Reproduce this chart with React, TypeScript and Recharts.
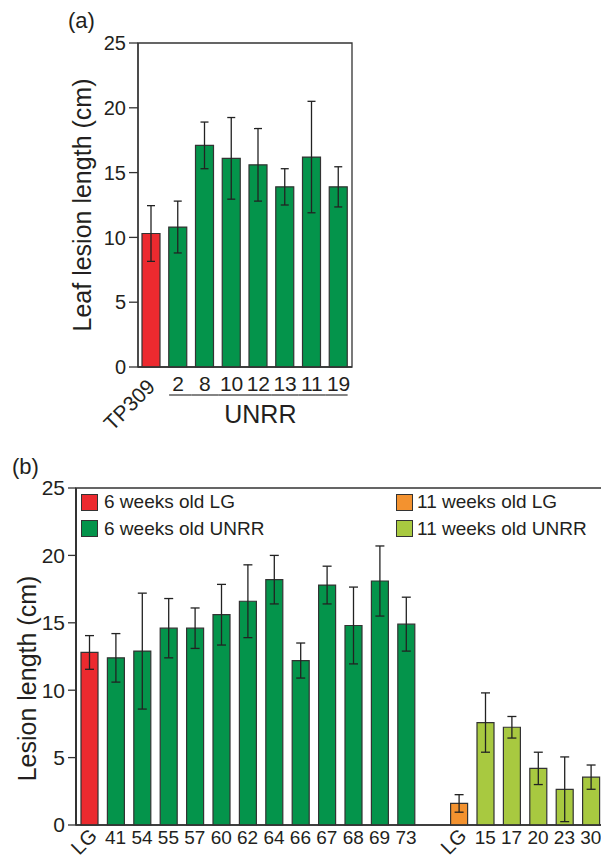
import React from 'react';
import { BarChart, Bar, Cell, ErrorBar, XAxis, YAxis, Legend, ReferenceArea } from 'recharts';

// ─── Data ─────────────────────────────────────────────────────────────────────

const panelACategories = ['TP309', '2', '8', '10', '12', '13', '11', '19'];
const panelAMeans = [10.3, 10.8, 17.1, 16.1, 15.6, 13.9, 16.2, 13.9];
const panelAErrors = [2.15, 2.0, 1.8, 3.15, 2.8, 1.4, 4.3, 1.55];
const panelATicks = [0, 5, 10, 15, 20, 25];

const panelBCategories = [
  'LG', '41', '54', '55', '57', '60', '62', '64', '66', '67', '68', '69', '73',
  '', 'LG', '15', '17', '20', '23', '30',
];
const panelBMeans = [
  12.8, 12.4, 12.9, 14.6, 14.6, 15.6, 16.6, 18.2, 12.2, 17.8, 14.8, 18.1, 14.9,
  null, 1.6, 7.6, 7.25, 4.2, 2.65, 3.55,
];
const panelBErrors = [
  1.25, 1.8, 4.3, 2.2, 1.5, 2.25, 2.7, 1.8, 1.3, 1.4, 2.85, 2.6, 2.0,
  null, 0.65, 2.2, 0.8, 1.2, 2.4, 0.9,
];
// group of each bar: 0 = 6 wk LG, 1 = 6 wk UNRR, 2 = 11 wk LG, 3 = 11 wk UNRR
const panelBGroups = [0, 1, 1, 1, 1, 1, 1, 1, 1, 1, 1, 1, 1, -1, 2, 3, 3, 3, 3, 3];
const panelBTicks = [0, 5, 10, 15, 20, 25];

const legendLabels = ['6 weeks old LG', '6 weeks old UNRR', '11 weeks old LG', '11 weeks old UNRR'];
const groupColors = ['#ec2a2f', '#04944b', '#f3922f', '#a8c940'];

// ─── Styling ──────────────────────────────────────────────────────────────────

const FONT = '"Liberation Sans", Arial, Helvetica, sans-serif';
const INK = '#231f20';
const AXIS = '#333';

const panelAData = panelACategories.map((name, i) => ({ name, mean: panelAMeans[i], err: panelAErrors[i] }));
const panelBData = panelBCategories.map((name, i) => ({
  name, mean: panelBMeans[i], err: panelBErrors[i], group: panelBGroups[i],
}));

// ─── Ticks ────────────────────────────────────────────────────────────────────

function PanelATick({ x, y, payload }: any) {
  const i = payload.index;
  const half = payload.offset || 13;
  const last = panelACategories.length - 1;
  if (i === 0) {
    return (
      <text x={x + 5} y={y + 21} textAnchor="end" transform={`rotate(-45 ${x + 5} ${y + 21})`}
        fontSize={21} fill={INK} fontFamily={FONT}>
        {payload.value}
      </text>
    );
  }
  const left = i === 1 ? x - 9 : x - half;
  const right = i === last ? x + 9 : x + half;
  return (
    <g>
      <text x={x} y={y + 24} textAnchor="middle" fontSize={21} fill={INK} fontFamily={FONT}>
        {payload.value}
      </text>
      <line x1={left} x2={right} y1={y + 28} y2={y + 28} stroke={AXIS} strokeWidth={1.2} />
      {i === 4 && (
        <text x={x + 2} y={y + 56} textAnchor="middle" fontSize={25} fill={INK} fontFamily={FONT}>
          UNRR
        </text>
      )}
    </g>
  );
}

function PanelBTick({ x, y, payload }: any) {
  if (payload.value === 'LG') {
    const ax = x + 9;
    const ay = y + 12;
    return (
      <text x={ax} y={ay} textAnchor="end" transform={`rotate(-45 ${ax} ${ay})`}
        fontSize={20} fill={INK} fontFamily={FONT}>
        LG
      </text>
    );
  }
  return (
    <text x={x} y={y + 19} textAnchor="middle" fontSize={19} fill={INK} fontFamily={FONT}>
      {payload.value}
    </text>
  );
}

function yTitle(text: string, dx: number, dy: number) {
  return ({ viewBox }: any) => {
    const tx = viewBox.x + dx;
    const ty = viewBox.y + viewBox.height / 2 + dy;
    return (
      <text x={tx} y={ty} textAnchor="middle" transform={`rotate(-90 ${tx} ${ty})`}
        fontSize={25} fill={INK} fontFamily={FONT}>
        {text}
      </text>
    );
  };
}

function PanelBLegend() {
  return (
    <div style={{ position: 'relative', width: 620, height: 100, fontFamily: FONT }}>
      {legendLabels.map((label, i) => {
        const left = i < 2 ? 81 : 396;
        const top = 53 + (i % 2) * 26.6;
        return (
          <div key={label} style={{ position: 'absolute', left, top, display: 'flex', alignItems: 'center', whiteSpace: 'nowrap' }}>
            <span style={{ width: 15, height: 15, background: groupColors[i], border: `1.5px solid ${AXIS}`, display: 'inline-block' }} />
            <span style={{ marginLeft: i < 2 ? 6 : 4, fontSize: 19, color: INK, lineHeight: '18px' }}>{label}</span>
          </div>
        );
      })}
    </div>
  );
}

// ─── App ──────────────────────────────────────────────────────────────────────

export default function App() {
  return (
    <div style={{ position: 'fixed', left: 0, top: 0, width: 601, height: 859, overflow: 'hidden', background: '#fff', fontFamily: FONT }}>
      <div style={{ position: 'absolute', left: 68, top: 10, fontSize: 22, lineHeight: '22px', color: INK }}>(a)</div>
      <div style={{ position: 'absolute', left: 12, top: 456, fontSize: 22, lineHeight: '22px', color: INK }}>(b)</div>

      <div style={{ position: 'absolute', left: 0, top: 0 }}>
        <BarChart width={601} height={440} data={panelAData} margin={{ top: 43, right: 249, bottom: 43, left: 78 }}>
          <XAxis dataKey="name" interval={0} height={30} tickLine={false} tickSize={0} tickMargin={0}
            axisLine={{ stroke: AXIS, strokeWidth: 1.3 }} tick={(p: any) => <PanelATick {...p} />} />
          <YAxis domain={[0, 25]} ticks={panelATicks} width={60} tickSize={9} tickMargin={3}
            axisLine={{ stroke: AXIS, strokeWidth: 1.3 }} tickLine={{ stroke: AXIS, strokeWidth: 1.3 }}
            tick={{ fontSize: 20, fill: INK, fontFamily: FONT }}
            label={yTitle('Leaf lesion length (cm)', 13, 0)} />
          <ReferenceArea y1={0} y2={25} fill="none" stroke={AXIS} strokeWidth={1.3} ifOverflow="visible" />
          <Bar dataKey="mean" barSize={18} stroke={AXIS} strokeWidth={1.2} isAnimationActive={false}>
            {panelAData.map((d, i) => (
              <Cell key={i} fill={i === 0 ? groupColors[0] : groupColors[1]} />
            ))}
            <ErrorBar dataKey="err" width={4} stroke="#222" strokeWidth={1.3} direction="y" isAnimationActive={false} />
          </Bar>
        </BarChart>
      </div>

      <div style={{ position: 'absolute', left: 0, top: 440 }}>
        <BarChart width={620} height={419} data={panelBData} margin={{ top: 48, right: 16, bottom: 4, left: 26 }}>
          <XAxis dataKey="name" interval={0} height={30} tickLine={false} tickSize={0} tickMargin={0}
            axisLine={{ stroke: AXIS, strokeWidth: 1.5 }} tick={(p: any) => <PanelBTick {...p} />} />
          <YAxis domain={[0, 25]} ticks={panelBTicks} width={50} tickSize={8} tickMargin={3}
            axisLine={{ stroke: AXIS, strokeWidth: 2 }} tickLine={{ stroke: AXIS, strokeWidth: 1.3 }}
            tick={{ fontSize: 21, fill: INK, fontFamily: FONT }}
            label={yTitle('Lesion length (cm)', 10, 22)} />
          <ReferenceArea y1={0} y2={25} fill="none" stroke={AXIS} strokeWidth={1.5} ifOverflow="visible" />
          <Legend layout="vertical" align="center" verticalAlign="middle"
            wrapperStyle={{ left: 0, top: 0, width: 620, height: 100 }} content={() => <PanelBLegend />} />
          <Bar dataKey="mean" barSize={17} stroke={AXIS} strokeWidth={1.2} isAnimationActive={false}>
            {panelBData.map((d, i) => (
              <Cell key={i} fill={d.group >= 0 ? groupColors[d.group] : 'none'} />
            ))}
            <ErrorBar dataKey="err" width={4.5} stroke="#222" strokeWidth={1.3} direction="y" isAnimationActive={false} />
          </Bar>
        </BarChart>
      </div>
    </div>
  );
}
